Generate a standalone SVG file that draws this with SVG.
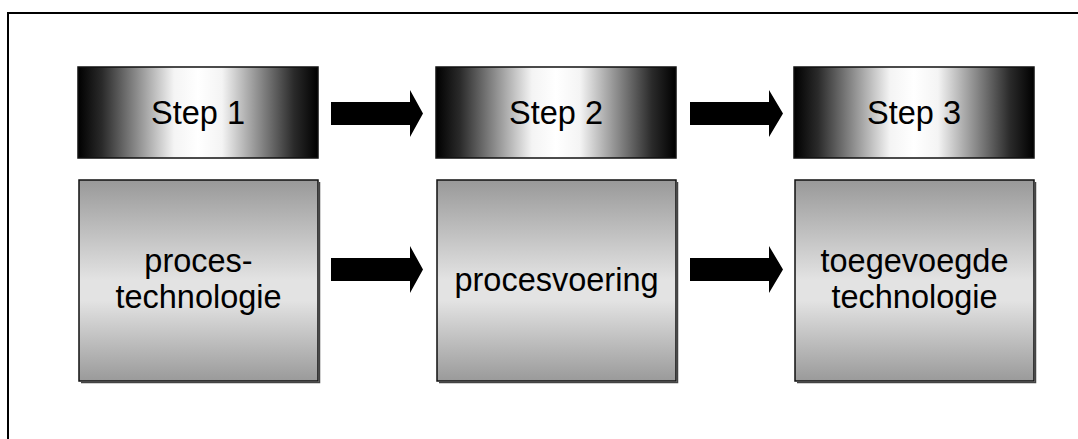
<svg xmlns="http://www.w3.org/2000/svg" width="1078" height="439" viewBox="0 0 1078 439">
  <defs>
    <linearGradient id="hdr" x1="0" y1="0" x2="1" y2="0">
      <stop offset="0" stop-color="#000"/>
      <stop offset="0.1" stop-color="#2a2a2a"/>
      <stop offset="0.4" stop-color="#f4f4f4"/>
      <stop offset="0.5" stop-color="#fff"/>
      <stop offset="0.6" stop-color="#f4f4f4"/>
      <stop offset="0.9" stop-color="#2a2a2a"/>
      <stop offset="1" stop-color="#000"/>
    </linearGradient>
    <linearGradient id="body" x1="0" y1="0" x2="0" y2="1">
      <stop offset="0" stop-color="#999"/>
      <stop offset="0.5" stop-color="#e3e3e3"/>
      <stop offset="0.6" stop-color="#e3e3e3"/>
      <stop offset="1" stop-color="#9a9a9a"/>
    </linearGradient>
    <style>
      .hdr { fill: url(#hdr); stroke: #111; stroke-width: 1.5; }
      .body { fill: url(#body); stroke: #111; stroke-width: 1.5; }
      .shadow { fill: none; stroke: #444; stroke-width: 1.5; }
      .lbl { font-family: "Liberation Sans", Arial, sans-serif; font-size: 32.5px; fill: #000; text-anchor: middle; }
      .arrow { fill: #000; }
    </style>
  </defs>
  <rect x="0" y="0" width="1078" height="439" fill="#fff"/>
  <rect x="8" y="13" width="1085" height="440" fill="none" stroke="#000" stroke-width="2"/>

  <g id="step1">
    <rect class="hdr" x="78" y="67" width="240" height="91"/>
    <text class="lbl" x="198" y="124">Step 1</text>
  </g>
  <g id="step2">
    <rect class="hdr" x="436" y="67" width="240" height="91"/>
    <text class="lbl" x="556" y="124">Step 2</text>
  </g>
  <g id="step3">
    <rect class="hdr" x="794" y="67" width="240" height="91"/>
    <text class="lbl" x="914" y="124">Step 3</text>
  </g>

  <g id="box1">
    <rect class="body" x="79" y="180" width="239" height="201"/>
    <polyline class="shadow" points="81,382.5 319.5,382.5 319.5,182"/>
    <text class="lbl" x="198.5" y="272">proces-</text>
    <text class="lbl" x="198.5" y="308">technologie</text>
  </g>
  <g id="box2">
    <rect class="body" x="437" y="180" width="239" height="201"/>
    <polyline class="shadow" points="439,382.5 677.5,382.5 677.5,182"/>
    <text class="lbl" x="556.5" y="291">procesvoering</text>
  </g>
  <g id="box3">
    <rect class="body" x="795" y="180" width="239" height="201"/>
    <polyline class="shadow" points="797,382.5 1035.5,382.5 1035.5,182"/>
    <text class="lbl" x="914.5" y="272">toegevoegde</text>
    <text class="lbl" x="914.5" y="308">technologie</text>
  </g>

  <g id="connectors">
    <polygon class="arrow" points="331,102 410,102 410,90 423,113.5 410,137 410,125 331,125"/>
    <polygon class="arrow" points="690,102 769,102 769,90 783,113.5 769,137 769,125 690,125"/>
    <polygon class="arrow" points="331,258 410,258 410,246 423,269.5 410,293 410,281 331,281"/>
    <polygon class="arrow" points="690,258 769,258 769,246 783,269.5 769,293 769,281 690,281"/>
  </g>
</svg>
